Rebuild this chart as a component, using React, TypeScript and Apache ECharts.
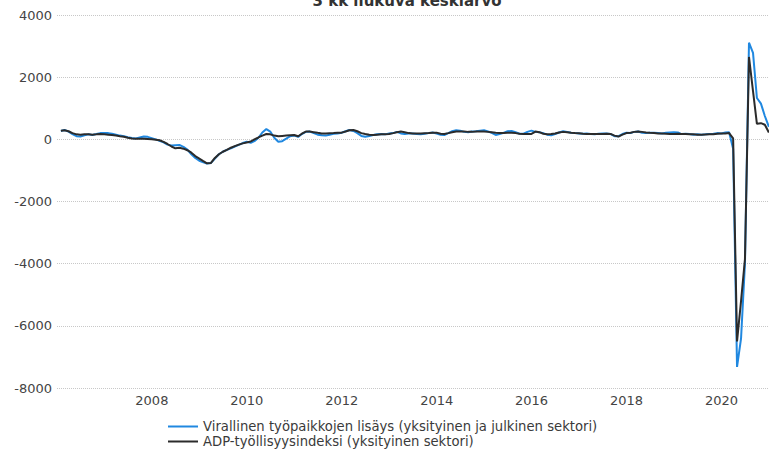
import React, { useEffect, useRef } from "react";
import * as echarts from "echarts";

const TITLE = "3 kk liukuva keskiarvo";
const SERIES_NAMES = [
  "Virallinen työpaikkojen lisäys (yksityinen ja julkinen sektori)",
  "ADP-työllisyysindeksi (yksityinen sektori)",
];
const START_YEAR = 2006;
const END_YEAR = 2020;
const FIRST_LABEL_YEAR = 2008;

// Monthly values (thousands), Jan 2006 .. Dec 2020, one row per year
const official: number[] = [
  270, 300, 250, 170, 100, 90, 130, 160, 140, 170, 200, 200,
  200, 180, 150, 120, 100, 70, 40, 30, 60, 90, 80, 40,
  0, -50, -100, -170, -200, -190, -180, -240, -330, -480, -600, -690,
  -740, -780, -760, -620, -480, -400, -340, -290, -230, -180, -120, -80,
  -110, -60, 50, 220, 330, 250, 50, -80, -60, 20, 100, 120,
  80, 170, 240, 250, 200, 150, 130, 120, 150, 180, 190, 210,
  260, 300, 270, 200, 110, 80, 110, 140, 160, 170, 160, 190,
  200, 240, 190, 170, 190, 190, 170, 160, 180, 200, 220, 190,
  150, 140, 200, 260, 290, 280, 240, 230, 250, 260, 280, 290,
  250, 210, 140, 170, 210, 260, 270, 230, 180, 180, 240, 280,
  240, 230, 200, 150, 130, 170, 220, 260, 240, 210, 200, 190,
  180, 190, 170, 160, 180, 190, 190, 170, 100, 100, 170, 210,
  200, 240, 250, 210, 200, 210, 210, 200, 190, 210, 220, 230,
  220, 170, 180, 170, 150, 160, 150, 160, 170, 180, 200, 190,
  220, 230, -300, -7320, -6400, -4000, 3110, 2780, 1330, 1150, 750, 400,
];

const adp: number[] = [
  280, 290, 260, 200, 160, 150, 160, 160, 150, 160, 170, 160,
  150, 140, 120, 100, 80, 50, 30, 20, 20, 20, 10, 0,
  -10, -30, -80, -150, -230, -290, -270, -300, -350, -430, -540, -620,
  -700, -770, -760, -600, -480, -400, -340, -270, -220, -170, -130, -100,
  -70, 0, 60, 120, 170, 160, 120, 100, 110, 120, 130, 140,
  100, 180, 250, 250, 230, 210, 190, 190, 195, 200, 210, 215,
  250, 290, 300, 260, 200, 170, 150, 140, 150, 160, 160, 170,
  200, 230, 250, 230, 200, 190, 190, 190, 195, 200, 210, 215,
  180, 170, 200, 230, 250, 250, 250, 240, 240, 250, 255, 250,
  240, 230, 210, 200, 200, 210, 215, 200, 180, 170, 175, 175,
  250, 230, 180, 160, 170, 190, 220, 240, 230, 210, 200, 195,
  180, 175, 175, 175, 170, 175, 180, 175, 120, 90, 150, 200,
  215, 240, 250, 240, 220, 210, 200, 190, 185, 180, 175, 175,
  180, 170, 170, 165, 160, 150, 150, 155, 160, 165, 180, 185,
  190, 200, 30, -6500, -5200, -3850, 2650, 1550, 500, 520, 470, 220,
];

// month-end dates
const months: number[] = [];
for (let y = START_YEAR; y <= END_YEAR; y++) {
  for (let m = 1; m <= 12; m++) months.push(Date.UTC(y, m, 0));
}

const FONT = "DejaVu Sans";

export default function App() {
  const ref = useRef<HTMLDivElement>(null);
  useEffect(() => {
    document.body.style.margin = "0";
    const chart = echarts.init(ref.current!, null, { renderer: "svg" });
    chart.setOption({
      animation: false,
      backgroundColor: "#ffffff",
      title: {
        text: TITLE,
        left: 402,
        textAlign: "center",
        top: -12,
        textStyle: { fontFamily: FONT, fontSize: 15, fontWeight: "bold", color: "#333" },
      },
      grid: { left: 57, right: 0, top: 15, bottom: 62, containLabel: false },
      legend: {
        orient: "vertical",
        left: 168,
        top: 419,
        height: 40,
        itemWidth: 30,
        itemHeight: 2,
        itemGap: 0,
        padding: 0,
        icon: "rect",
        textStyle: { fontFamily: FONT, fontSize: 13.2, lineHeight: 15, color: "#3a3a3a" },
        data: SERIES_NAMES,
      },
      xAxis: {
        type: "time",
        min: Date.UTC(2006, 0, 1),
        max: Date.UTC(2021, 0, 1),
        minInterval: 2 * 365.25 * 86400000,
        maxInterval: 2 * 365.25 * 86400000,
        axisLine: { show: false },
        axisTick: { show: false },
        splitLine: { show: false },
        axisLabel: {
          fontFamily: FONT,
          fontSize: 13,
          color: "#444",
          margin: 6,
          formatter: (v: number) => {
            const y = new Date(v).getUTCFullYear();
            return y >= FIRST_LABEL_YEAR && y <= END_YEAR ? String(y) : "";
          },
        },
      },
      yAxis: {
        type: "value",
        min: -8000,
        max: 4000,
        interval: 2000,
        axisLine: { show: false },
        axisTick: { show: false },
        splitLine: { lineStyle: { type: "dotted", color: "#c8c8c8", width: 1 } },
        axisLabel: {
          fontFamily: FONT,
          fontSize: 13,
          color: "#444",
          margin: 5,
          formatter: (v: number) => String(v),
        },
      },
      series: [
        {
          name: SERIES_NAMES[0],
          type: "line",
          data: months.map((t, i) => [t, official[i]]),
          showSymbol: false,
          symbol: "none",
          lineStyle: { color: "#2088e0", width: 2 },
          itemStyle: { color: "#2088e0" },
        },
        {
          name: SERIES_NAMES[1],
          type: "line",
          data: months.map((t, i) => [t, adp[i]]),
          showSymbol: false,
          symbol: "none",
          lineStyle: { color: "#2b2b2b", width: 2 },
          itemStyle: { color: "#2b2b2b" },
        },
      ],
    });
    return () => chart.dispose();
  }, []);
  return <div ref={ref} style={{ width: 769, height: 450 }} />;
}
